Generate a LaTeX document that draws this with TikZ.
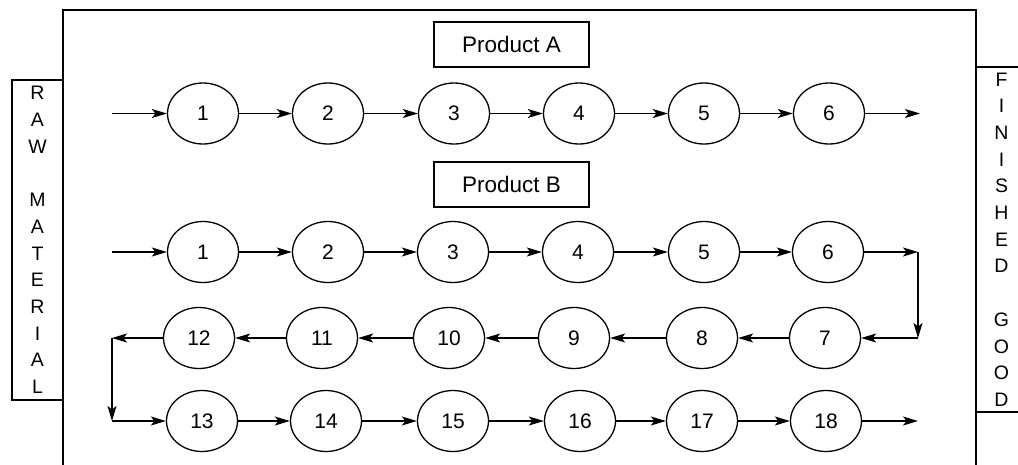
\documentclass[tikz,border=0pt]{standalone}
\usepackage{fontspec}
\setmainfont{Liberation Sans}
\usetikzlibrary{shapes,arrows.meta}

\begin{document}
\begin{tikzpicture}[x=1pt,y=-1pt,line width=1.3pt,
  stn/.style={ellipse,draw=black,minimum width=71pt,minimum height=61pt,inner sep=0pt,font=\fontsize{21}{24}\selectfont},
  prodbox/.style={rectangle,draw=black,minimum width=155pt,minimum height=45pt,font=\fontsize{22.5}{26}\selectfont},
  sidebox/.style={rectangle,draw=black,minimum width=51pt,align=center,inner sep=0pt,font=\fontsize{19.5}{26.7}\selectfont},
  flow/.style={-{Stealth[length=15pt,width=9pt,inset=3.5pt]}}]
\useasboundingbox (0,0) rectangle (1018,464);
\clip (0,0) rectangle (1018,464);

%Frame
\draw (63,10) rectangle (976,490);
\node [sidebox,minimum height=320pt] (RawMat) at (37.5,240) {R\\A\\W\\\mbox{}\\M\\A\\T\\E\\R\\I\\A\\L};
\node [sidebox,minimum height=345pt] (FinGood) at (1001.5,239.5) {F\\I\\N\\I\\S\\H\\E\\D\\\mbox{}\\G\\O\\O\\D};

%Product Labels
\node [prodbox] (ProdA) at (511.5,44.5) {Product A};
\node [prodbox] (ProdB) at (511.5,184.5) {Product B};

%Node Coordinates
\node [stn] (A1) at (203,113.5) {1};
\node [stn] (A2) at (328,113.5) {2};
\node [stn] (A3) at (454,113.5) {3};
\node [stn] (A4) at (579,113.5) {4};
\node [stn] (A5) at (704,113.5) {5};
\node [stn] (A6) at (829,113.5) {6};

\node [stn] (B1) at (203,252) {1};
\node [stn] (B2) at (328,252) {2};
\node [stn] (B3) at (453,252) {3};
\node [stn] (B4) at (578,252) {4};
\node [stn] (B5) at (704,252) {5};
\node [stn] (B6) at (828,252) {6};
\node [stn] (B7) at (825,338) {7};
\node [stn] (B8) at (702,338) {8};
\node [stn] (B9) at (574,338) {9};
\node [stn] (B10) at (449,338) {10};
\node [stn] (B11) at (322,338) {11};
\node [stn] (B12) at (199,338) {12};
\node [stn] (B13) at (202,421) {13};
\node [stn] (B14) at (326,421) {14};
\node [stn] (B15) at (453,421) {15};
\node [stn] (B16) at (580,421) {16};
\node [stn] (B17) at (702,421) {17};
\node [stn] (B18) at (826,421) {18};

%Free Ends
\coordinate (InA) at (112,113.5);
\coordinate (OutA) at (920,113.5);
\coordinate (InB) at (112,252);
\coordinate (TurnR1) at (918,252);
\coordinate (TurnR2) at (918,338);
\coordinate (TurnL1) at (112,338);
\coordinate (TurnL2) at (112,421);
\coordinate (OutB) at (918,421);

%Connections
\draw [flow] (InA) -- (A1);
\draw [flow] (A1) -- (A2);
\draw [flow] (A2) -- (A3);
\draw [flow] (A3) -- (A4);
\draw [flow] (A4) -- (A5);
\draw [flow] (A5) -- (A6);
\draw [flow] (A6) -- (OutA);

\draw [flow] (InB) -- (B1);
\draw [flow] (B1) -- (B2);
\draw [flow] (B2) -- (B3);
\draw [flow] (B3) -- (B4);
\draw [flow] (B4) -- (B5);
\draw [flow] (B5) -- (B6);
\draw [flow] (B6) -- (TurnR1);
\draw [flow] (TurnR1) -- (TurnR2);
\draw [flow] (TurnR2) -- (B7);
\draw [flow] (B7) -- (B8);
\draw [flow] (B8) -- (B9);
\draw [flow] (B9) -- (B10);
\draw [flow] (B10) -- (B11);
\draw [flow] (B11) -- (B12);
\draw [flow] (B12) -- (TurnL1);
\draw [flow] (TurnL1) -- (TurnL2);
\draw [flow] (TurnL2) -- (B13);
\draw [flow] (B13) -- (B14);
\draw [flow] (B14) -- (B15);
\draw [flow] (B15) -- (B16);
\draw [flow] (B16) -- (B17);
\draw [flow] (B17) -- (B18);
\draw [flow] (B18) -- (OutB);
\end{tikzpicture}
\end{document}
